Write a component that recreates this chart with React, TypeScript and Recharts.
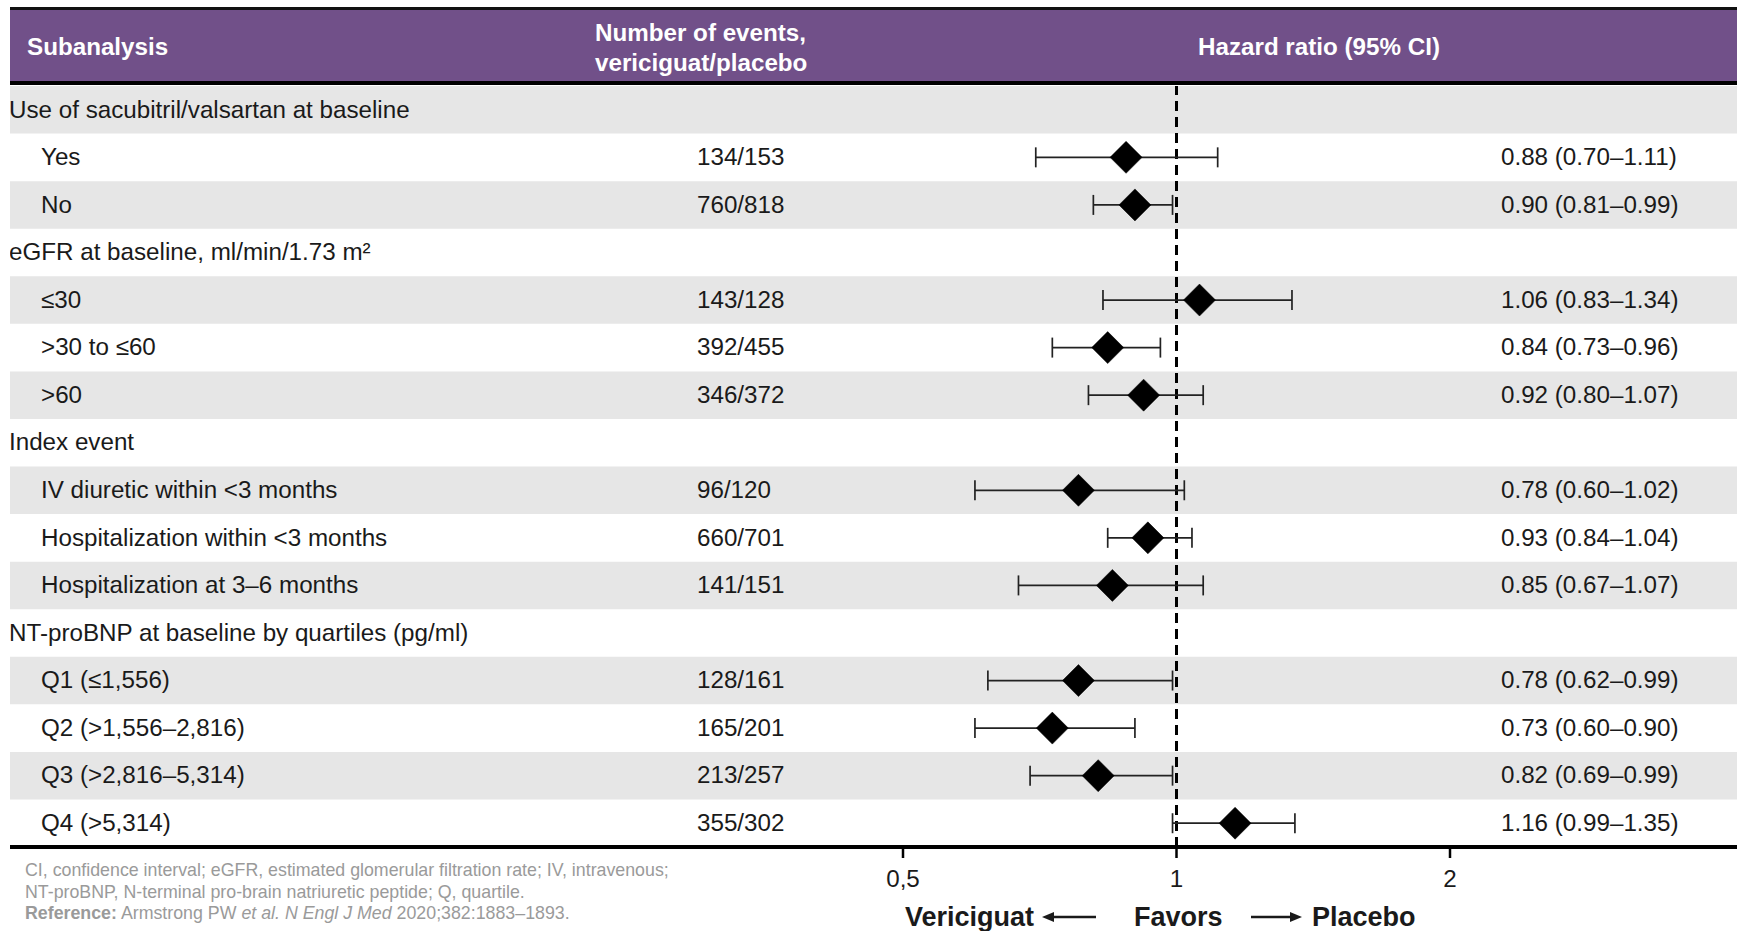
import React from 'react';
import {
  ComposedChart,
  XAxis,
  YAxis,
  Scatter,
  ErrorBar,
  ReferenceArea,
  ReferenceLine,
} from 'recharts';

// ---------------- DATA ----------------
const ROW_LABELS = [
  'Use of sacubitril/valsartan at baseline',
  'Yes',
  'No',
  'eGFR at baseline, ml/min/1.73 m²',
  '≤30',
  '>30 to ≤60',
  '>60',
  'Index event',
  'IV diuretic within <3 months',
  'Hospitalization within <3 months',
  'Hospitalization at 3–6 months',
  'NT-proBNP at baseline by quartiles (pg/ml)',
  'Q1 (≤1,556)',
  'Q2 (>1,556–2,816)',
  'Q3 (>2,816–5,314)',
  'Q4 (>5,314)',
];
const ROW_IS_SUBITEM = [false, true, true, false, true, true, true, false, true, true, true, false, true, true, true, true];
const EVENTS = ['', '134/153', '760/818', '', '143/128', '392/455', '346/372', '', '96/120', '660/701', '141/151', '', '128/161', '165/201', '213/257', '355/302'];
const HR: (number | null)[] = [null, 0.88, 0.9, null, 1.06, 0.84, 0.92, null, 0.78, 0.93, 0.85, null, 0.78, 0.73, 0.82, 1.16];
const CI_LOW: (number | null)[] = [null, 0.7, 0.81, null, 0.83, 0.73, 0.8, null, 0.6, 0.84, 0.67, null, 0.62, 0.6, 0.69, 0.99];
const CI_HIGH: (number | null)[] = [null, 1.11, 0.99, null, 1.34, 0.96, 1.07, null, 1.02, 1.04, 1.07, null, 0.99, 0.9, 0.99, 1.35];
const X_TICKS = [0.5, 1, 2];

const HEADER_SUBANALYSIS = 'Subanalysis';
const HEADER_EVENTS = ['Number of events,', 'vericiguat/placebo'];
const HEADER_HR = 'Hazard ratio (95% CI)';

// ---------------- LAYOUT ----------------
const W = 1744;
const H = 931;
const X_LEFT = 10;
const X_RIGHT = 1737;
const X_ONE = 1176.5;
const PX_PER_DOUBLING = 273.5;
const PLOT_TOP = 86;
const PLOT_BOTTOM = 847;
const X_AXIS_H = 40;

const X_DOMAIN: [number, number] = [
  Math.pow(2, (X_LEFT - X_ONE) / PX_PER_DOUBLING),
  Math.pow(2, (X_RIGHT - X_ONE) / PX_PER_DOUBLING),
];

const FONT = '"Liberation Sans", Arial, Helvetica, sans-serif';
const TEXT = '#1a1a1a';
const PURPLE = '#715089';
const GRAY_ROW = '#e6e6e6';
const NOTE = '#9a9a9a';
const BODY_SIZE = 24.2;

const fmt = (v: number) => v.toFixed(2);

const ROW_INDEX = ROW_LABELS.map((_, i) => i);

const points = ROW_INDEX.filter((i) => HR[i] != null).map((i) => ({
  row: i,
  hr: HR[i] as number,
  err: [(HR[i] as number) - (CI_LOW[i] as number), (CI_HIGH[i] as number) - (HR[i] as number)],
}));

// one anchor per table row; the text columns take their vertical position from the y scale
const rowAnchors = ROW_INDEX.map((i) => ({ row: i, hr: 1 }));

const grayRows = ROW_INDEX.filter((i) => i % 2 === 0);

function RowText(props: any) {
  const { cy } = props;
  const i = (props.payload && props.payload.row) ?? props.row;
  if (cy == null || i == null) return null;
  const common = { fontFamily: FONT, fontSize: BODY_SIZE, fill: TEXT, dy: '0.32em' } as any;
  return (
    <g>
      <text x={ROW_IS_SUBITEM[i] ? 41 : 9} y={cy} {...common}>
        {ROW_LABELS[i]}
      </text>
      {EVENTS[i] ? (
        <text x={697} y={cy} {...common}>
          {EVENTS[i]}
        </text>
      ) : null}
      {HR[i] != null ? (
        <text x={1501} y={cy} {...common}>
          {`${fmt(HR[i] as number)} (${fmt(CI_LOW[i] as number)}–${fmt(CI_HIGH[i] as number)})`}
        </text>
      ) : null}
    </g>
  );
}

function Diamond(props: any) {
  const { cx, cy } = props;
  if (cx == null || cy == null) return null;
  const r = 16;
  return (
    <polygon
      points={`${cx},${cy - r} ${cx + r},${cy} ${cx},${cy + r} ${cx - r},${cy}`}
      fill="#000"
      stroke="#000"
      strokeWidth={0.5}
    />
  );
}

function Overlay() {
  return (
    <svg
      width={W}
      height={H}
      style={{ position: 'absolute', left: 0, top: 0, pointerEvents: 'none' }}
    >
      {/* header */}
      <rect x={X_LEFT} y={7} width={X_RIGHT - X_LEFT} height={3} fill="#111" />
      <rect x={X_LEFT} y={10} width={X_RIGHT - X_LEFT} height={71} fill={PURPLE} />
      <rect x={X_LEFT} y={81} width={X_RIGHT - X_LEFT} height={4} fill="#000" />
      <g fontFamily={FONT} fontSize={24.2} fontWeight="bold" fill="#fff">
        <text x={27} y={46} dy="0.36em">{HEADER_SUBANALYSIS}</text>
        <text x={595} y={32} dy="0.36em">{HEADER_EVENTS[0]}</text>
        <text x={595} y={62} dy="0.36em">{HEADER_EVENTS[1]}</text>
        <text x={1198} y={46} dy="0.36em">{HEADER_HR}</text>
      </g>
      {/* footnotes */}
      <g fontFamily={FONT} fontSize={17.8} fill={NOTE}>
        <text x={25} y={876}>CI, confidence interval; eGFR, estimated glomerular filtration rate; IV, intravenous;</text>
        <text x={25} y={897.5}>NT-proBNP, N-terminal pro-brain natriuretic peptide; Q, quartile.</text>
        <text x={25} y={919}>
          <tspan fontWeight="bold">Reference:</tspan>
          <tspan> Armstrong PW </tspan>
          <tspan fontStyle="italic">et al. N Engl J Med</tspan>
          <tspan> 2020;382:1883–1893.</tspan>
        </text>
      </g>
      {/* favours */}
      <g fontFamily={FONT} fontSize={27} fontWeight="bold" fill={TEXT}>
        <text x={905} y={926}>Vericiguat</text>
        <text x={1134} y={926}>Favors</text>
        <text x={1312} y={926}>Placebo</text>
      </g>
      <g stroke={TEXT} strokeWidth={2.5} fill={TEXT}>
        <line x1={1052} y1={917} x2={1096} y2={917} />
        <polygon points="1042,917 1054,912 1054,922" stroke="none" />
        <line x1={1251} y1={917} x2={1292} y2={917} />
        <polygon points="1302,917 1290,912 1290,922" stroke="none" />
      </g>
    </svg>
  );
}

export default function App() {
  return (
    <div style={{ position: 'absolute', left: 0, top: 0, width: W, height: H, background: '#fff' }}>
      <ComposedChart
        width={W}
        height={H}
        margin={{ top: PLOT_TOP, left: X_LEFT, right: W - X_RIGHT, bottom: H - PLOT_BOTTOM - X_AXIS_H }}
        data={points}
      >
        {grayRows.map((i) => (
          <ReferenceArea
            key={i}
            y1={i - 0.5}
            y2={i + 0.5}
            fill={GRAY_ROW}
            fillOpacity={1}
            stroke="none"
            ifOverflow="visible"
          />
        ))}
        <XAxis
          type="number"
          dataKey="hr"
          scale="log"
          domain={X_DOMAIN}
          allowDataOverflow
          ticks={X_TICKS}
          interval={0}
          height={X_AXIS_H}
          tickFormatter={(v: number) => String(v).replace('.', ',')}
          axisLine={{ stroke: '#000', strokeWidth: 4 }}
          tickLine={{ stroke: '#000', strokeWidth: 2.5 }}
          tickSize={11}
          tickMargin={12}
          tick={{ fontFamily: FONT, fontSize: BODY_SIZE, fill: TEXT }}
        />
        <YAxis
          type="number"
          dataKey="row"
          domain={[-0.5, ROW_LABELS.length - 0.5]}
          allowDataOverflow
          reversed
          width={0}
          axisLine={false}
          tickLine={false}
          tick={false}
        />
        <Scatter data={rowAnchors} dataKey="hr" shape={<RowText />} isAnimationActive={false} />
        <ReferenceLine x={1} stroke="#000" strokeWidth={3} strokeDasharray="10 6" />
        <Scatter data={points} dataKey="hr" shape={<Diamond />} isAnimationActive={false}>
          <ErrorBar
            dataKey="err"
            direction="x"
            width={10}
            stroke="#222"
            strokeWidth={1.7}
            isAnimationActive={false}
          />
        </Scatter>
      </ComposedChart>
      <Overlay />
    </div>
  );
}
